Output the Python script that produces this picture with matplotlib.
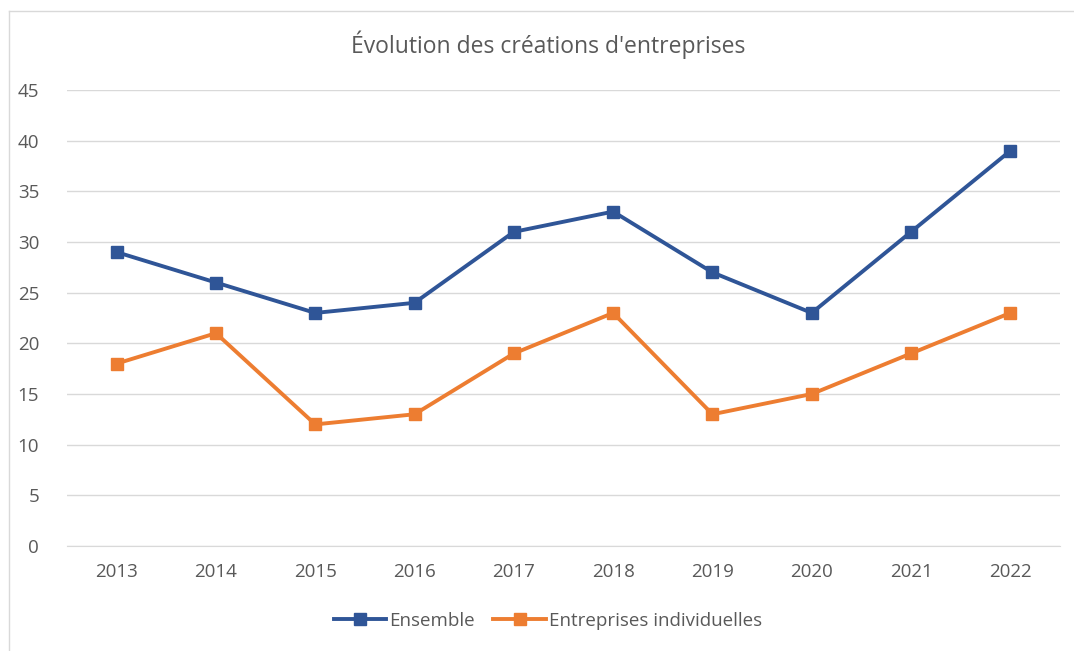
import matplotlib.pyplot as plt
from matplotlib.lines import Line2D

# data
years = ['2013', '2014', '2015', '2016', '2017', '2018', '2019', '2020', '2021', '2022']
ensemble = [29, 26, 23, 24, 31, 33, 27, 23, 31, 39]
individuelles = [18, 21, 12, 13, 19, 23, 13, 15, 19, 23]
yticks = [0, 5, 10, 15, 20, 25, 30, 35, 40, 45]

plt.rcParams['font.family'] = ['Open Sans', 'DejaVu Sans']
txt = '#595959'
blue = '#2F5597'
orange = '#ED7D31'

fig = plt.figure(figsize=(10.74, 6.51), dpi=100)
ax = fig.add_axes([67 / 1074, 1 - 546 / 651, (1060 - 67) / 1074, (546 - 90) / 651])

x = range(len(years))
ax.plot(x, ensemble, color=blue, lw=2.8, marker='s', markersize=8, label='Ensemble')
ax.plot(x, individuelles, color=orange, lw=2.8, marker='s', markersize=8,
        label='Entreprises individuelles')

ax.set_xlim(-0.5, len(years) - 0.5)
ax.set_ylim(0, 45)
ax.set_xticks(list(x))
ax.set_xticklabels(years)
ax.set_yticks(yticks)
ax.tick_params(length=0, labelsize=13.5, colors=txt)
ax.tick_params(axis='x', pad=12)
ax.tick_params(axis='y', pad=20)
ax.grid(axis='y', color='#D9D9D9', lw=1)
ax.set_axisbelow(True)
for s in ['top', 'right', 'left']:
    ax.spines[s].set_visible(False)
ax.spines['bottom'].set_color('#D9D9D9')

fig.text(548 / 1074, 1 - 45 / 651, "Évolution des créations d'entreprises", ha='center',
         va='center', fontsize=16.5, color=txt)

handles = [Line2D([], [], color=blue, lw=2.8, marker='s', markersize=8),
           Line2D([], [], color=orange, lw=2.8, marker='s', markersize=8)]
fig.legend(handles, ['Ensemble', 'Entreprises individuelles'], loc='center',
           bbox_to_anchor=(0.51, 1 - 621 / 651), ncol=2, frameon=False, fontsize=13.5,
           labelcolor=txt, handlelength=2.8, handletextpad=0.15, columnspacing=1.0)

# chart border (top and left visible)
fig.add_artist(Line2D([9 / 1074, 9 / 1074], [0, 1 - 11 / 651], transform=fig.transFigure,
                      color='#D9D9D9', lw=1))
fig.add_artist(Line2D([9 / 1074, 1], [1 - 11 / 651, 1 - 11 / 651], transform=fig.transFigure,
                      color='#D9D9D9', lw=1))

fig.savefig('out.png', dpi=100)
